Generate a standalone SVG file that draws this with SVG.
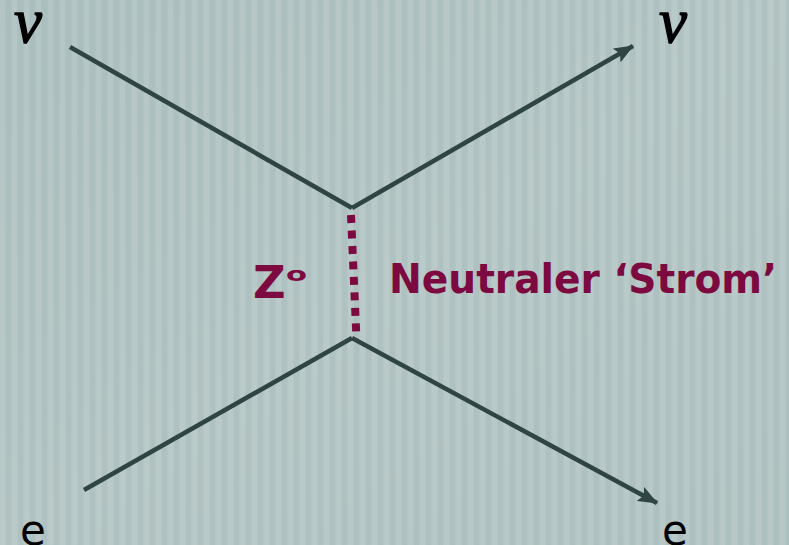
<svg xmlns="http://www.w3.org/2000/svg" width="789" height="545" viewBox="0 0 789 545">
<defs>
<linearGradient id="bg" x1="0" y1="0" x2="1" y2="1">
<stop offset="0" stop-color="#adc1c0"/>
<stop offset="0.5" stop-color="#b4c6c5"/>
<stop offset="1" stop-color="#b1c4c3"/>
</linearGradient>
<pattern id="stripes" width="12" height="10" patternUnits="userSpaceOnUse">
<rect x="0" y="0" width="5" height="10" fill="#ffffff" opacity="0.07"/>
<rect x="6" y="0" width="5" height="10" fill="#6a8684" opacity="0.06"/>
</pattern>
<marker id="arr" viewBox="0 0 20 16" refX="19" refY="8" markerWidth="20" markerHeight="16" markerUnits="userSpaceOnUse" orient="auto">
<path d="M0,0 L20,8 L0,16 L4,8 Z" fill="#2f4543"/>
</marker>
<style>
.ln{stroke:#2f4543;stroke-width:4.5;fill:none;stroke-linecap:butt}
.lbl{font-family:"DejaVu Sans",Verdana,sans-serif;font-weight:bold;fill:#7c0a40}
.nu{font-family:"Liberation Serif","DejaVu Serif",serif;font-style:italic;font-size:63px;fill:#000;stroke:#000;stroke-width:1.3}
.e{font-family:"DejaVu Sans",Verdana,sans-serif;font-size:42px;fill:#000}
</style>
</defs>
<rect width="789" height="545" fill="url(#bg)"/>
<rect width="789" height="545" fill="url(#stripes)"/>
<g id="connectors">
<line class="ln" x1="70" y1="47" x2="352" y2="208"/>
<line class="ln" x1="352" y1="208" x2="633" y2="46" marker-end="url(#arr)"/>
<line class="ln" x1="84" y1="490" x2="352" y2="338"/>
<line class="ln" x1="352" y1="338" x2="657" y2="503" marker-end="url(#arr)"/>
<line id="z-boson" x1="351" y1="215" x2="356.5" y2="339" stroke="#7c0a40" stroke-width="8" stroke-dasharray="8 7.5"/>
</g>
<g id="nu-in"><text class="nu" x="14" y="42">ν</text></g>
<g id="nu-out"><text class="nu" x="659" y="42">ν</text></g>
<g id="e-in"><text class="e" x="20" y="545">e</text></g>
<g id="e-out"><text class="e" x="662" y="545">e</text></g>
<g id="z-label">
<text class="lbl" x="253" y="298" font-size="45">Z</text>
<text class="lbl" x="286" y="281" font-size="20" textLength="21" lengthAdjust="spacingAndGlyphs">o</text>
</g>
<g id="current-label">
<text class="lbl" x="389" y="293" font-size="41" textLength="388" lengthAdjust="spacingAndGlyphs">Neutraler ‘Strom’</text>
</g>
</svg>
